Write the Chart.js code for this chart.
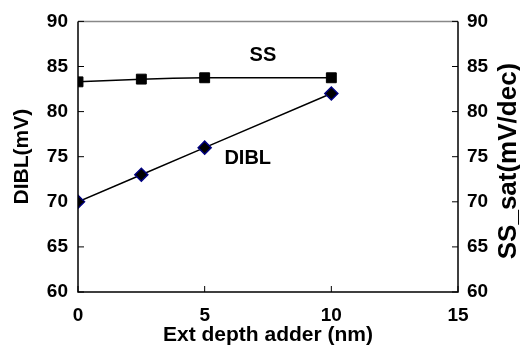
<!DOCTYPE html>
<html>
<head>
<meta charset="utf-8">
<script src="https://cdn.jsdelivr.net/npm/chart.js@4.4.0/dist/chart.umd.min.js"></script>
<style>
  html, body { margin: 0; padding: 0; background: #fff; }
  #wrap { width: 520px; height: 345px; }
</style>
</head>
<body>
<div id="wrap"><canvas id="dibl"></canvas></div>
<script>
/* ================= DATA ================= */
const extDepth = [0, 2.5, 5, 10];
const ssValues = [83.3, 83.6, 83.75, 83.75];
const diblValues = [70, 73, 76, 82];
const xTicks = [0, 5, 10, 15];
const yTicks = [60, 65, 70, 75, 80, 85, 90];

const FONT = "'Liberation Sans', Arial, sans-serif";

function toPoints(xs, ys) {
  return xs.map((x, i) => ({ x: x, y: ys[i] }));
}

/* ================= FRAME + INWARD TICKS ================= */
const framePlugin = {
  id: "frame",
  afterDatasetsDraw(chart) {
    const { ctx, chartArea: a, scales } = chart;
    ctx.save();
    ctx.lineWidth = 1.5;
    // top edge is grey in the original
    ctx.strokeStyle = "#888";
    ctx.beginPath();
    ctx.moveTo(a.left, a.top);
    ctx.lineTo(a.right, a.top);
    ctx.stroke();
    ctx.strokeStyle = "#000";
    ctx.beginPath();
    ctx.moveTo(a.left, a.top);
    ctx.lineTo(a.left, a.bottom);
    ctx.lineTo(a.right, a.bottom);
    ctx.lineTo(a.right, a.top);
    ctx.stroke();

    // ticks point into the plot
    ctx.lineWidth = 1;
    ctx.beginPath();
    xTicks.forEach(v => {
      const px = scales.x.getPixelForValue(v);
      ctx.moveTo(px, a.bottom);
      ctx.lineTo(px, a.bottom - 6);
    });
    yTicks.forEach(v => {
      const py = scales.y.getPixelForValue(v);
      ctx.moveTo(a.left, py);
      ctx.lineTo(a.left + 6, py);
      const py2 = scales.y2.getPixelForValue(v);
      ctx.moveTo(a.right, py2);
      ctx.lineTo(a.right - 6, py2);
    });
    ctx.stroke();

    // series labels
    ctx.fillStyle = "#000";
    ctx.font = "bold 20px " + FONT;
    ctx.textAlign = "center";
    ctx.textBaseline = "middle";
    ctx.fillText("SS", scales.x.getPixelForValue(7.3), scales.y2.getPixelForValue(86.2));
    ctx.fillText("DIBL", scales.x.getPixelForValue(6.7), scales.y.getPixelForValue(74.8));

    // right axis title reads bottom to top
    ctx.font = "bold 26px " + FONT;
    ctx.translate(509, 161);
    ctx.rotate(-Math.PI / 2);
    ctx.fillText("SS_sat(mV/dec)", 0, 0);
    ctx.restore();
  }
};

/* ================= CHART ================= */
const tickFont = { family: FONT, size: 19, weight: "bold" };
const titleFont = { family: FONT, size: 21, weight: "bold", lineHeight: 0.8 };

new Chart(document.getElementById("dibl").getContext("2d"), {
  type: "line",
  data: {
    datasets: [
      {
        label: "SS",
        data: toPoints(extDepth, ssValues),
        yAxisID: "y2",
        borderColor: "#000",
        borderWidth: 1.5,
        tension: 0.2,
        pointStyle: "rect",
        pointRadius: 7,
        pointBackgroundColor: "#000",
        pointBorderColor: "#000",
        pointBorderWidth: 1
      },
      {
        label: "DIBL",
        data: toPoints(extDepth, diblValues),
        yAxisID: "y",
        borderColor: "#000",
        borderWidth: 1.5,
        tension: 0,
        pointStyle: "rectRot",
        pointRadius: 6.5,
        pointBackgroundColor: "#000",
        pointBorderColor: "#000080",
        pointBorderWidth: 1.5
      }
    ]
  },
  options: {
    responsive: true,
    maintainAspectRatio: false,
    animation: false,
    layout: { padding: { top: 9, right: 0, bottom: 0, left: 0 } },
    plugins: {
      legend: { display: false },
      tooltip: { enabled: false }
    },
    scales: {
      x: {
        type: "linear",
        min: 0,
        max: 15,
        afterBuildTicks: s => { s.ticks = xTicks.map(v => ({ value: v })); },
        afterFit: s => { s.height = 53; },
        grid: { display: false, drawTicks: false },
        border: { display: false },
        ticks: { color: "#000", font: tickFont, padding: 12, maxRotation: 0 },
        title: {
          display: true,
          text: "Ext depth adder (nm)",
          color: "#000",
          font: titleFont,
          padding: { top: 0, bottom: 1 }
        }
      },
      y: {
        position: "left",
        min: 60,
        max: 90,
        afterBuildTicks: s => { s.ticks = yTicks.map(v => ({ value: v })); },
        afterFit: s => { s.width = 78; },
        grid: { display: false, drawTicks: false },
        border: { display: false },
        ticks: { color: "#000", font: tickFont, padding: 10 },
        title: {
          display: true,
          text: "DIBL(mV)",
          color: "#000",
          font: { family: FONT, size: 21, weight: "bold" },
          padding: { top: 10, bottom: 0 }
        }
      },
      y2: {
        position: "right",
        min: 60,
        max: 90,
        afterBuildTicks: s => { s.ticks = yTicks.map(v => ({ value: v })); },
        afterFit: s => { s.width = 62; },
        grid: { display: false, drawTicks: false },
        border: { display: false },
        ticks: { color: "#000", font: tickFont, padding: 9 }
      }
    }
  },
  plugins: [framePlugin]
});
</script>
</body>
</html>
